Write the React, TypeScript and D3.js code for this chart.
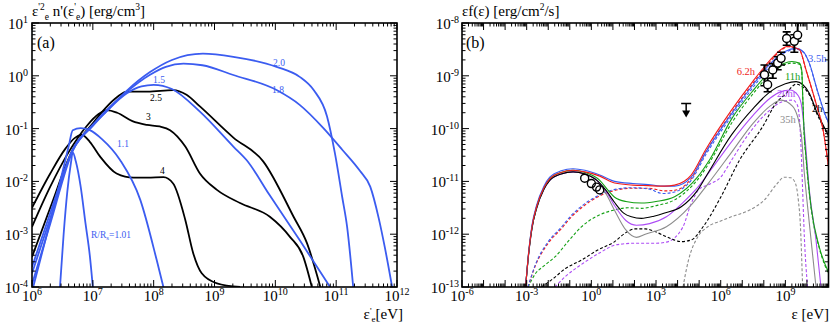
import * as d3 from "d3";

type Pt = [number, number];

const W = 831;
const H = 326;
const FONT = "Liberation Serif, Times New Roman, DejaVu Serif, serif";
const BLUE = "#3b5cf0";
const RED = "#f01c1c";
const GREEN = "#14a014";
const PURPLE = "#ad4cf5";
const GRAY = "#8c8c8c";

// ---- panel (a): electron spectra, points are [log10 E'e (eV), log10 E'^2 n' (erg/cm^3)]
const rs101: Pt[] = [[6.46, -4], [6.52, -3.0], [6.58, -2.2], [6.64, -1.65], [6.67, -1.45], [6.72, -1.62], [6.8, -2.1], [6.88, -2.8], [6.95, -3.4], [7.0, -4]];
const rs11: Pt[] = [[6.02, -4], [6.2, -3.2], [6.4, -2.3], [6.6, -1.35], [6.67, -1.03], [6.8, -0.99], [6.95, -1.03], [7.15, -1.2], [7.45, -1.6], [7.78, -2.35], [8.05, -3.49], [8.16, -4]];
const rs15: Pt[] = [[6, -3.62], [6.3, -2.6], [6.67, -1.4], [7.0, -0.93], [7.2, -0.7], [7.56, -0.33], [7.8, -0.2], [8.0, -0.17], [8.3, -0.25], [8.76, -0.68], [9.31, -1.34], [9.53, -1.6], [9.9, -2.25], [10.41, -3.13], [10.9, -4]];
const rs18: Pt[] = [[6, -3.74], [6.3, -2.7], [6.67, -1.4], [7.0, -0.93], [7.2, -0.68], [7.56, -0.3], [7.94, 0.02], [8.2, 0.17], [8.49, 0.23], [8.8, 0.2], [9.31, 0.015], [10.02, -0.27], [10.4, -0.55], [10.79, -0.99], [11.1, -1.4], [11.39, -1.8], [11.56, -2.1], [11.7, -2.7], [11.8, -3.25], [11.92, -4]];
const rs20: Pt[] = [[6, -3.95], [6.3, -2.8], [6.67, -1.42], [7.0, -0.95], [7.2, -0.7], [7.56, -0.28], [7.94, 0.07], [8.3, 0.3], [8.81, 0.42], [9.31, 0.36], [10.02, 0.17], [10.4, -0.02], [10.63, -0.27], [10.85, -0.77], [10.98, -1.47], [11.1, -2.3], [11.18, -2.86], [11.28, -4]];
const rs25: Pt[] = [[6, -3.43], [6.3, -2.5], [6.67, -1.4], [7.0, -0.9], [7.2, -0.62], [7.4, -0.4], [7.56, -0.3], [7.9, -0.3], [8.32, -0.27], [8.54, -0.36], [8.76, -0.58], [9.31, -1.17], [9.8, -1.62], [10.3, -2.67], [10.52, -3.17], [10.74, -4]];
const rs3: Pt[] = [[6, -2.86], [6.3, -2.1], [6.6, -1.45], [6.9, -0.95], [7.1, -0.72], [7.23, -0.65], [7.4, -0.7], [7.65, -0.86], [7.89, -0.93], [8.1, -0.96], [8.27, -1.03], [8.52, -1.34], [8.76, -1.85], [9.04, -2.16], [9.42, -2.41], [9.91, -2.67], [10.24, -3.05], [10.46, -3.43], [10.6, -4]];
const rs4: Pt[] = [[6, -2.5], [6.3, -1.85], [6.55, -1.38], [6.7, -1.18], [6.82, -1.12], [6.95, -1.25], [7.12, -1.53], [7.39, -1.85], [7.67, -1.93], [7.9, -1.93], [8.16, -1.92], [8.32, -2.04], [8.52, -2.73], [8.65, -3.36], [8.79, -3.74], [9.04, -3.93], [9.42, -4.0]];

const curvesA = [
  { pts: rs4, color: "#000" }, { pts: rs3, color: "#000" }, { pts: rs25, color: "#000" },
  { pts: rs101, color: BLUE }, { pts: rs11, color: BLUE }, { pts: rs15, color: BLUE },
  { pts: rs18, color: BLUE }, { pts: rs20, color: BLUE },
];

// ---- panel (b): SEDs, points are [log10 E (eV), log10 E f(E) (erg/cm^2/s)]
const syncRise: Pt[] = [[-3.05, -13], [-2.92, -12.4], [-2.75, -11.85], [-2.54, -11.48], [-2.2, -11.12], [-1.93, -10.95], [-1.4, -10.83], [-0.85, -10.79]];
const redSolid: Pt[] = [...syncRise, [-0.3, -10.82], [0.39, -10.9], [1.08, -11.03], [1.93, -11.07], [2.63, -11.08], [3.4, -11.09], [3.86, -11.07], [4.63, -10.88], [5.3, -10.4], [6.5, -9.65], [7.5, -9.1], [8.3, -8.7], [8.8, -8.5], [9.11, -8.44], [9.65, -8.5], [9.96, -8.89], [10.42, -9.52], [10.73, -9.98], [11, -10.72]];
const blueSolid: Pt[] = [[-3.05, -13], [-2.92, -12.38], [-2.75, -11.82], [-2.54, -11.45], [-2.2, -11.09], [-1.93, -10.92], [-1.4, -10.8], [-0.85, -10.76], [-0.3, -10.79], [0.39, -10.88], [1.08, -11.0], [1.93, -11.04], [2.63, -11.06], [3.4, -11.09], [3.86, -11.09], [4.63, -10.92], [5.3, -10.45], [6.5, -9.72], [7.5, -9.17], [8.3, -8.77], [8.9, -8.56], [9.5, -8.48], [9.85, -8.55], [10.11, -8.76], [10.5, -9.3], [10.88, -9.77], [11, -9.88]];
const greenSolid: Pt[] = [...syncRise, [-0.3, -10.83], [0.39, -10.98], [0.8, -11.18], [1.08, -11.3], [1.6, -11.38], [2.32, -11.41], [3.0, -11.38], [3.86, -11.29], [4.94, -10.91], [5.5, -10.58], [6.5, -9.82], [7.5, -9.28], [8.3, -8.92], [8.9, -8.77], [9.3, -8.73], [9.65, -8.76], [9.76, -8.9], [9.8, -9.33], [9.86, -10.0], [9.96, -10.55], [10.19, -11.48], [10.57, -12.24], [11, -12.72]];
const blackSolid: Pt[] = [[-3.05, -13], [-2.92, -12.42], [-2.75, -11.88], [-2.54, -11.51], [-2.2, -11.15], [-1.93, -10.98], [-1.4, -10.86], [-0.85, -10.82], [-0.3, -10.86], [0.31, -11.0], [0.7, -11.18], [1.08, -11.4], [1.5, -11.6], [1.86, -11.67], [2.32, -11.7], [2.9, -11.66], [3.4, -11.6], [4.17, -11.48], [4.94, -11.16], [5.4, -10.85], [6.5, -10.12], [7.5, -9.62], [8.3, -9.3], [9.0, -9.15], [9.5, -9.11], [10.11, -9.33], [10.42, -9.65], [11, -10.12]];
const purpleSolid: Pt[] = [[-3.05, -13], [-2.92, -12.42], [-2.75, -11.88], [-2.54, -11.51], [-2.2, -11.15], [-1.93, -10.98], [-1.4, -10.86], [-0.85, -10.82], [-0.3, -10.86], [0.31, -11.0], [0.7, -11.2], [1.08, -11.46], [1.6, -11.74], [2.09, -11.83], [2.7, -11.8], [3.48, -11.67], [4.2, -11.42], [5.0, -11.08], [5.6, -10.75], [6.5, -10.25], [7.5, -9.75], [8.3, -9.42], [8.8, -9.3], [9.2, -9.27], [9.55, -9.35], [9.73, -9.52], [9.88, -10.03], [10.11, -11.16], [10.42, -12.11], [10.65, -13]];
const graySolid: Pt[] = [[-3.05, -13], [-2.92, -12.42], [-2.75, -11.88], [-2.54, -11.51], [-2.2, -11.15], [-1.93, -10.98], [-1.4, -10.86], [-0.85, -10.82], [-0.3, -10.86], [0.31, -11.0], [0.7, -11.25], [1.08, -11.55], [1.6, -11.92], [2.09, -12.06], [2.5, -12.0], [3.48, -11.86], [4.56, -11.48], [5.4, -11.05], [6.5, -10.45], [7.5, -9.9], [8.3, -9.57], [8.8, -9.46], [9.34, -9.58], [9.73, -10.09], [9.88, -10.85], [10.11, -11.79], [10.42, -13]];

const redDashed: Pt[] = [[-2.94, -13], [-2.6, -12.6], [-2.0, -12.17], [-1.4, -11.9], [-0.92, -11.67], [-0.3, -11.45], [0.31, -11.29], [1.0, -11.18], [1.86, -11.13], [2.63, -11.13], [3.4, -11.18], [3.86, -11.17], [4.63, -10.95], [5.3, -10.45], [6.5, -9.7], [7.5, -9.14], [8.3, -8.73], [8.8, -8.52], [9.11, -8.45], [9.65, -8.51], [9.96, -8.9], [10.42, -9.53], [10.73, -9.99], [11, -10.73]];
const blueDashed: Pt[] = [[-2.94, -13], [-2.6, -12.58], [-2.0, -12.14], [-1.4, -11.87], [-0.92, -11.64], [-0.3, -11.42], [0.31, -11.27], [1.0, -11.16], [1.86, -11.12], [2.63, -11.14], [3.32, -11.23], [3.86, -11.2], [4.63, -10.98], [5.3, -10.5], [6.5, -9.77], [7.5, -9.22], [8.3, -8.81], [8.9, -8.58], [9.5, -8.5], [9.85, -8.56], [10.11, -8.77], [10.5, -9.31], [10.88, -9.78], [11, -9.89]];
const greenDashed: Pt[] = [[-2.93, -13], [-2.6, -12.75], [-2.2, -12.6], [-1.69, -12.43], [-1.0, -12.1], [-0.46, -11.86], [0.3, -11.65], [1.08, -11.54], [1.7, -11.5], [2.32, -11.51], [3.0, -11.46], [3.86, -11.35], [4.94, -10.96], [5.5, -10.63], [6.5, -9.9], [7.5, -9.34], [8.3, -8.97], [8.9, -8.8], [9.3, -8.76], [9.65, -8.78], [9.76, -8.92], [9.8, -9.35], [9.86, -10.02], [9.96, -10.57], [10.19, -11.5], [10.57, -12.26], [11, -12.74]];
const blackDashed: Pt[] = [[-2.31, -13], [-1.8, -12.85], [-1.2, -12.65], [-0.46, -12.49], [0.3, -12.3], [1.08, -12.14], [1.6, -11.97], [2.01, -11.9], [2.5, -11.9], [2.94, -11.95], [3.5, -12.05], [4.17, -12.14], [4.63, -12.11], [5.2, -11.85], [6.0, -11.3], [6.87, -10.6], [7.95, -9.96], [8.6, -9.5], [9.0, -9.35], [9.5, -9.16], [10.11, -9.36], [10.42, -9.68], [11, -10.14]];
const purpleDashed: Pt[] = [[-1.69, -13], [-1.2, -12.8], [-0.38, -12.55], [0.4, -12.35], [1.16, -12.2], [2.09, -12.17], [3.0, -12.17], [3.48, -12.15], [4.25, -11.86], [4.6, -11.45], [5.0, -11.15], [5.5, -11.05], [6.0, -10.92], [6.5, -10.6], [7.3, -10.1], [8.2, -9.68], [8.8, -9.5], [9.34, -9.46], [9.55, -9.55], [9.65, -9.8], [9.73, -10.4], [9.8, -11.16], [9.88, -12.05], [10.03, -13]];
const grayDashed: Pt[] = [[4.25, -13], [4.5, -12.5], [4.94, -12.05], [5.4, -11.86], [6.0, -11.75], [6.49, -11.67], [7.3, -11.55], [8.03, -11.35], [8.6, -11.05], [8.95, -10.92], [9.25, -10.93], [9.45, -11.02], [9.6, -11.35], [9.7, -11.86], [9.76, -12.5], [9.8, -13]];

const curvesB = [
  { pts: grayDashed, color: GRAY, dash: true }, { pts: purpleDashed, color: PURPLE, dash: true },
  { pts: blackDashed, color: "#000", dash: true }, { pts: greenDashed, color: GREEN, dash: true },
  { pts: redDashed, color: RED, dash: true }, { pts: blueDashed, color: BLUE, dash: true },
  { pts: graySolid, color: GRAY, dash: false }, { pts: purpleSolid, color: PURPLE, dash: false },
  { pts: blackSolid, color: "#000", dash: false }, { pts: greenSolid, color: GREEN, dash: false },
  { pts: blueSolid, color: BLUE, dash: false }, { pts: redSolid, color: RED, dash: false },
];

// observed points
const optE = [0.49, 1.0, 1.74, 2.45];
const optF = [1.15e-11, 9.1e-12, 7.8e-12, 6.9e-12];
const gamE = [1.07e8, 1.5e8, 2.6e8, 4.4e8, 6.3e8, 1.15e9, 2.6e9, 3.7e9];
const gamF = [1.05e-9, 6.8e-10, 1.29e-9, 1.74e-9, 2.14e-9, 5.1e-9, 4.5e-9, 5.9e-9];
const gamLo = [6.5e-10, 5e-10, 9e-10, 1.3e-9, 1.6e-9, 3.8e-9, 2.8e-9, 4.5e-9];
const gamHi = [1.6e-9, 9e-10, 1.7e-9, 2.3e-9, 2.8e-9, 6.8e-9, 6e-9, 1e-8];
const ulE = 2.5e4;
const ulF = 3.0e-10;

const aX = d3.scaleLog().domain([1e6, 1e12]).range([32, 397]);
const aY = d3.scaleLog().domain([1e-4, 1e1]).range([287, 23]);
const bX = d3.scaleLog().domain([1e-6, 1e11]).range([462, 828.5]);
const bY = d3.scaleLog().domain([1e-13, 1e-8]).range([287, 23]);

const lineFor = (x: any, y: any) =>
  d3.line<Pt>().x((d) => x(10 ** d[0])).y((d) => y(10 ** d[1])).curve(d3.curveMonotoneX);

function logTicks(lo: number, hi: number) {
  const out: { v: number; major: boolean }[] = [];
  for (let e = lo; e < hi; e++) for (let m = 1; m < 10; m++) out.push({ v: m * 10 ** e, major: m === 1 });
  out.push({ v: 10 ** hi, major: true });
  return out;
}

function Frame({ x, y, xr, yr }: { x: any; y: any; xr: [number, number]; yr: [number, number] }) {
  const [x0, x1] = x.range();
  const [y0, y1] = y.range();
  const ticks: any[] = [];
  logTicks(xr[0], xr[1]).forEach((t, i) => {
    const px = x(t.v);
    const l = t.major ? 7 : 3.5;
    ticks.push(<line key={"xb" + i} x1={px} x2={px} y1={y0} y2={y0 - l} />);
    ticks.push(<line key={"xt" + i} x1={px} x2={px} y1={y1} y2={y1 + l} />);
  });
  logTicks(yr[0], yr[1]).forEach((t, i) => {
    const py = y(t.v);
    const l = t.major ? 7 : 3.5;
    ticks.push(<line key={"yl" + i} x1={x0} x2={x0 + l} y1={py} y2={py} />);
    ticks.push(<line key={"yr" + i} x1={x1} x2={x1 - l} y1={py} y2={py} />);
  });
  return (
    <g stroke="#000">
      <g strokeWidth={1}>{ticks}</g>
      <rect x={x0} y={y1} width={x1 - x0} height={y0 - y1} fill="none" strokeWidth={1.6} />
    </g>
  );
}

function Pow({ x, y, e, anchor }: { x: number; y: number; e: number; anchor: string }) {
  return (
    <text x={x} y={y} fontSize={15} textAnchor={anchor}>
      10<tspan dy={-6} fontSize={10}>{e}</tspan>
    </text>
  );
}

export default function App() {
  const la = lineFor(aX, aY);
  const lb = lineFor(bX, bY);
  const aXt = [6, 7, 8, 9, 10, 11, 12];
  const aYt = [1, 0, -1, -2, -3, -4];
  const bXt = [-6, -3, 0, 3, 6, 9];
  const bYt = [-8, -9, -10, -11, -12, -13];
  return (
    <svg width={W} height={H} style={{ position: "absolute", left: 0, top: 0, background: "#fff", fontFamily: FONT }}>
      <defs>
        <clipPath id="clipA"><rect x={32} y={23} width={365} height={264} /></clipPath>
        <clipPath id="clipB"><rect x={462} y={23} width={366.5} height={264} /></clipPath>
      </defs>

      {/* panel (a) */}
      <g clipPath="url(#clipA)" fill="none">
        {curvesA.map((c, i) => (
          <path key={i} d={la(c.pts) || ""} stroke={c.color} strokeWidth={1.8} />
        ))}
      </g>
      <g fontSize={9.5}>
        <text x={273} y={66} fill={BLUE}>2.0</text>
        <text x={272} y={93} fill={BLUE}>1.8</text>
        <text x={153} y={83} fill={BLUE}>1.5</text>
        <text x={150} y={101} fill="#000">2.5</text>
        <text x={146} y={120} fill="#000">3</text>
        <text x={117} y={147} fill={BLUE}>1.1</text>
        <text x={160} y={174} fill="#000">4</text>
        <text x={91} y={238} fill={BLUE}>
          R/R<tspan dy={2} fontSize={7}>s</tspan><tspan dy={-2}>=1.01</tspan>
        </text>
      </g>
      <Frame x={aX} y={aY} xr={[6, 12]} yr={[-4, 1]} />
      {aXt.map((e) => <Pow key={e} x={aX(10 ** e)} y={301} e={e} anchor="middle" />)}
      {aYt.map((e) => <Pow key={e} x={28} y={aY(10 ** e) + 6} e={e} anchor="end" />)}
      <text x={37} y={48} fontSize={16}>(a)</text>
      <text x={32} y={16} fontSize={15}>
        ε<tspan dy={-6} fontSize={9.5}>'2</tspan>
        <tspan dy={10} fontSize={9.5}>e</tspan>
        <tspan dy={-4}> n'(ε</tspan>
        <tspan dy={-6} fontSize={9.5}>'</tspan>
        <tspan dy={10} fontSize={9.5}>e</tspan>
        <tspan dy={-4}>) [erg/cm</tspan>
        <tspan dy={-6} fontSize={9.5}>3</tspan>
        <tspan dy={6}>]</tspan>
      </text>
      <text x={403} y={319} fontSize={15} textAnchor="end">
        ε<tspan dy={-5} fontSize={9}>'</tspan>
        <tspan dy={8} fontSize={9}>e</tspan>
        <tspan dy={-3}>[eV]</tspan>
      </text>

      {/* panel (b) */}
      <g clipPath="url(#clipB)" fill="none">
        {curvesB.map((c, i) => (
          <path key={i} d={lb(c.pts) || ""} stroke={c.color} strokeWidth={1.1} strokeDasharray={c.dash ? "3,2" : undefined} />
        ))}
        <g stroke="#000" strokeWidth={1.4}>
          {optE.map((e, i) => <circle key={i} cx={bX(e)} cy={bY(optF[i])} r={4} />)}
        </g>
        <g stroke="#000">
          {gamE.map((e, i) => {
            const px = bX(e);
            return (
              <g key={i}>
                <line x1={px} x2={px} y1={bY(gamLo[i])} y2={bY(gamHi[i])} strokeWidth={2} />
                <line x1={px - 4} x2={px + 4} y1={bY(gamLo[i])} y2={bY(gamLo[i])} strokeWidth={1.6} />
                <line x1={px - 4} x2={px + 4} y1={bY(gamHi[i])} y2={bY(gamHi[i])} strokeWidth={1.6} />
              </g>
            );
          })}
          {gamE.map((e, i) => <circle key={"c" + i} cx={bX(e)} cy={bY(gamF[i])} r={4} strokeWidth={1.4} fill="#fff" />)}
        </g>
        <g stroke="#000" fill="#000">
          <line x1={bX(ulE) - 5} x2={bX(ulE) + 5} y1={bY(ulF)} y2={bY(ulF)} strokeWidth={1.5} />
          <line x1={bX(ulE)} x2={bX(ulE)} y1={bY(ulF)} y2={bY(ulF) + 8} strokeWidth={1.5} />
          <path d={`M${bX(ulE) - 4},${bY(ulF) + 7} L${bX(ulE) + 4},${bY(ulF) + 7} L${bX(ulE)},${bY(ulF) + 14} Z`} stroke="none" />
        </g>
      </g>
      <g fontSize={10.5}>
        <text x={755} y={75} fill={RED} textAnchor="end">6.2h</text>
        <text x={808} y={62} fill={BLUE}>3.5h</text>
        <text x={785} y={80} fill={GREEN}>11h</text>
        <text x={777} y={97} fill={PURPLE}>20hr</text>
        <text x={812} y={112} fill="#000">2h</text>
        <text x={780} y={123} fill={GRAY}>35h</text>
      </g>
      <Frame x={bX} y={bY} xr={[-6, 11]} yr={[-13, -8]} />
      {bXt.map((e) => <Pow key={e} x={bX(10 ** e)} y={301} e={e} anchor="middle" />)}
      {bYt.map((e) => <Pow key={e} x={459} y={bY(10 ** e) + 6} e={e} anchor="end" />)}
      <text x={466} y={48} fontSize={16}>(b)</text>
      <text x={462} y={16} fontSize={15}>
        εf(ε) [erg/cm<tspan dy={-6} fontSize={9.5}>2</tspan><tspan dy={6}>/s]</tspan>
      </text>
      <text x={829} y={319} fontSize={15} textAnchor="end">ε [eV]</text>
    </svg>
  );
}
